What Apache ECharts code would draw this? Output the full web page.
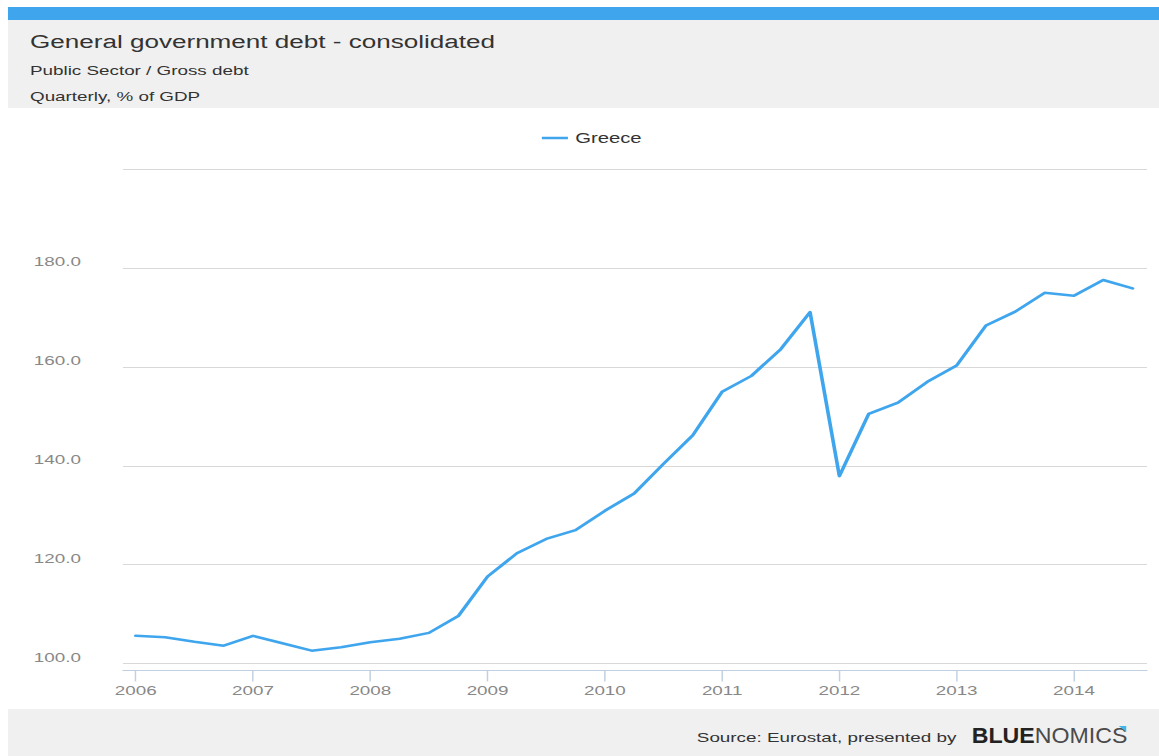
<!DOCTYPE html>
<html>
<head>
<meta charset="utf-8">
<script src="https://cdn.jsdelivr.net/npm/echarts@6/dist/echarts.min.js"></script>
<style>
  html, body { margin: 0; padding: 0; background: #ffffff; overflow: hidden; }
  #wrap { position: absolute; left: 0; top: 0; width: 800px; height: 756px; transform: scaleX(1.44875); transform-origin: 0 0; }
  #chart { width: 800px; height: 756px; }
</style>
</head>
<body>
<div id="wrap"><div id="chart"></div></div>
<script>
// ---- data ----
const quarters = [
  '2006Q1','2006Q2','2006Q3','2006Q4',
  '2007Q1','2007Q2','2007Q3','2007Q4',
  '2008Q1','2008Q2','2008Q3','2008Q4',
  '2009Q1','2009Q2','2009Q3','2009Q4',
  '2010Q1','2010Q2','2010Q3','2010Q4',
  '2011Q1','2011Q2','2011Q3','2011Q4',
  '2012Q1','2012Q2','2012Q3','2012Q4',
  '2013Q1','2013Q2','2013Q3','2013Q4',
  '2014Q1','2014Q2','2014Q3'
];
const greece = [
  105.6, 105.3, 104.4, 103.6,
  105.6, 104.1, 102.6, 103.3,
  104.3, 105.0, 106.2, 109.6,
  117.6, 122.3, 125.2, 127.0,
  130.9, 134.4, 140.4, 146.2,
  155.0, 158.2, 163.6, 171.1,
  137.9, 150.5, 152.8, 157.0,
  160.3, 168.4, 171.2, 175.0,
  174.4, 177.6, 175.9
];
const yearTicks = [2006, 2007, 2008, 2009, 2010, 2011, 2012, 2013, 2014];
const seriesName = 'Greece';
const titleText = 'General government debt - consolidated';
const subtitle1 = 'Public Sector / Gross debt';
const subtitle2 = 'Quarterly, % of GDP';
const sourceText = 'Source: Eurostat, presented by';

function quarterToYear(q) {
  const y = parseInt(q.slice(0, 4), 10);
  const n = parseInt(q.slice(5), 10);
  return y + (n - 1) / 4;
}
const points = quarters.map((q, i) => [quarterToYear(q), greece[i]]);

const FONT = '"Liberation Sans", Arial, Helvetica, sans-serif';
const chart = echarts.init(document.getElementById('chart'), null, { renderer: 'svg' });

chart.setOption({
  animation: false,
  backgroundColor: '#ffffff',
  textStyle: { fontFamily: FONT },
  graphic: [
    { type: 'rect', shape: { x: 5.5, y: 7, width: 795, height: 13 }, style: { fill: '#3fa6ee' }, silent: true },
    { type: 'rect', shape: { x: 5.5, y: 20, width: 795, height: 88 }, style: { fill: '#f0f0f0' }, silent: true },
    { type: 'rect', shape: { x: 5.5, y: 709, width: 795, height: 47 }, style: { fill: '#f0f0f0' }, silent: true },
    { type: 'text', x: 20.7, y: 41.7, style: { text: titleText, font: '18px ' + FONT, fill: '#333333', verticalAlign: 'middle' }, silent: true },
    { type: 'text', x: 20.7, y: 70, style: { text: subtitle1, font: '13px ' + FONT, fill: '#333333', verticalAlign: 'middle' }, silent: true },
    { type: 'text', x: 20.7, y: 96, style: { text: subtitle2, font: '13px ' + FONT, fill: '#333333', verticalAlign: 'middle' }, silent: true },
    { type: 'text', x: 481, y: 737, style: { text: sourceText, font: '13px ' + FONT, fill: '#333333', verticalAlign: 'middle' }, silent: true },
    { type: 'text', x: 670.7, y: 735, scaleY: 1.4,
      style: {
        text: '{b|BLUE}{n|NOMICS}', verticalAlign: 'middle',
        rich: {
          b: { fontFamily: FONT, fontSize: 16, fontWeight: 'bold', fill: '#222222' },
          n: { fontFamily: FONT, fontSize: 16, fontWeight: 'normal', fill: '#4a4a4a' }
        }
      }, silent: true },
    { type: 'polygon', shape: { points: [[772.2, 726], [777.4, 726], [777.4, 731.8]] }, style: { fill: '#3db8e8' }, silent: true }
  ],
  legend: {
    data: [{ name: seriesName, icon: 'rect' }],
    left: 369, top: 126,
    itemWidth: 18, itemHeight: 2.5,
    textStyle: { fontSize: 14, color: '#333333', fontFamily: FONT },
    selectedMode: false
  },
  grid: { left: 84.9, right: 8.3, top: 169.3, bottom: 92.5 },
  xAxis: {
    type: 'value',
    min: 2005.891, max: 2014.623,
    offset: 7,
    axisLine: { show: true, lineStyle: { color: '#c0d0e0', width: 1 } },
    axisTick: { show: true, customValues: yearTicks, length: 11, lineStyle: { color: '#c0d0e0', width: 1 } },
    axisLabel: { customValues: yearTicks, formatter: v => String(Math.round(v)), margin: 13, color: '#888888', fontSize: 13, fontFamily: FONT },
    splitLine: { show: false }
  },
  yAxis: {
    type: 'value',
    min: 100, max: 200, interval: 20,
    axisLine: { show: false },
    axisTick: { show: false },
    axisLabel: {
      formatter: v => (v >= 200 ? '' : v.toFixed(1)),
      margin: 29, color: '#888888', fontSize: 13, fontFamily: FONT,
      verticalAlign: 'bottom', lineHeight: 13
    },
    splitLine: { show: true, lineStyle: { color: '#d8d8d8', width: 1 } }
  },
  series: [{
    name: seriesName,
    type: 'line',
    data: points,
    symbol: 'none',
    smooth: false,
    color: '#3fa6ee',
    lineStyle: { color: '#3fa6ee', width: 2.5, join: 'round', cap: 'round' }
  }]
});
</script>
</body>
</html>
